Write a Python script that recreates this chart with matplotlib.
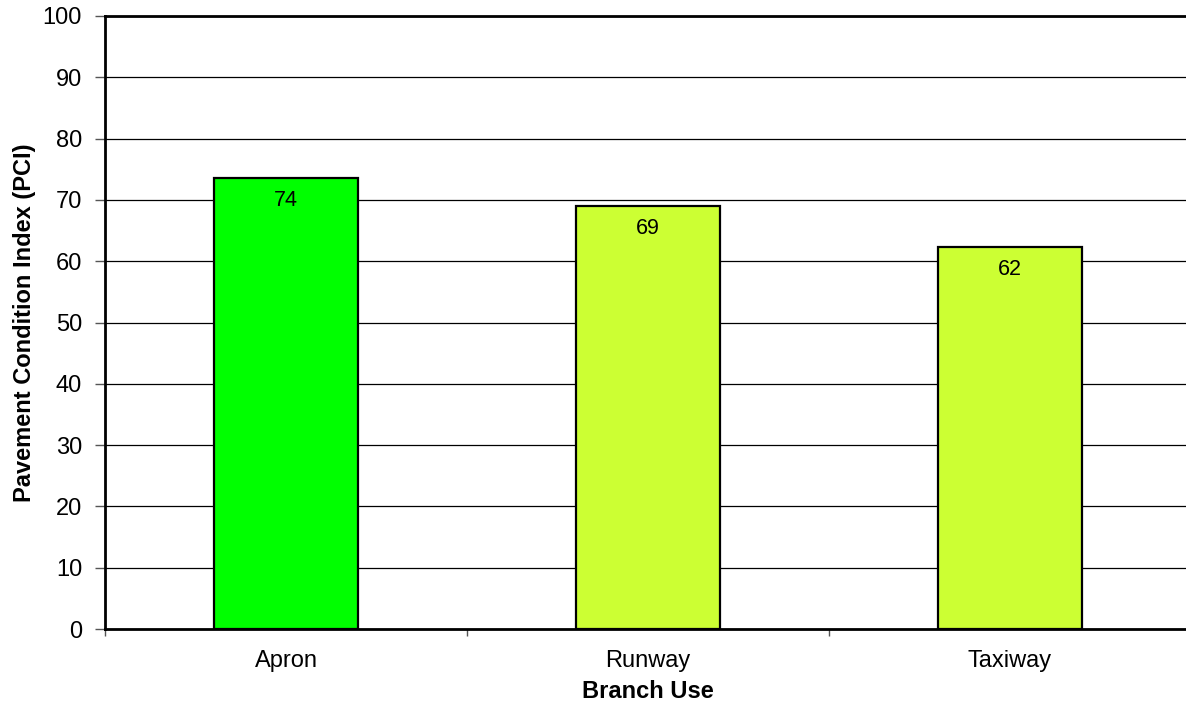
import matplotlib
matplotlib.use("Agg")
import matplotlib.pyplot as plt
import numpy as np

categories = ["Apron", "Runway", "Taxiway"]
pci_values = [73.6, 69.0, 62.3]
bar_colors = ["#00FF00", "#CCFF33", "#CCFF33"]
y_ticks = [0, 10, 20, 30, 40, 50, 60, 70, 80, 90, 100]

plt.rcParams['font.family'] = ['Liberation Sans', 'DejaVu Sans']

W, H = 1186, 707
fig = plt.figure(figsize=(W / 100, H / 100), dpi=100)
ax = fig.add_axes([105 / W, (H - 629) / H, 1086 / W, 613 / H])

x = np.arange(len(categories))
bars = ax.bar(x, pci_values, width=0.4, color=bar_colors, edgecolor="black",
              linewidth=1.6, zorder=3)

for xi, v in zip(x, pci_values):
    ax.annotate(f"{v:.0f}", xy=(xi, v), xytext=(0, -16), textcoords="offset points",
                ha="center", va="center", fontsize=15.5, zorder=4)

ax.set_xlim(-0.5, len(categories) - 0.5)
ax.set_ylim(0, 100)
ax.set_yticks(y_ticks)
ax.set_yticklabels([str(t) for t in y_ticks], fontsize=17)
ax.yaxis.grid(True, color="black", linewidth=0.9, zorder=0)
ax.set_axisbelow(True)

ax.set_xticks(x)
ax.set_xticklabels(categories, fontsize=17)
ax.tick_params(axis="x", which="major", length=0, pad=15)
ax.set_xticks(np.arange(-0.5, len(categories) + 0.5, 1.0), minor=True)
ax.tick_params(axis="x", which="minor", length=5, width=1, color="#555555")
ax.tick_params(axis="y", length=7, width=1, color="#555555", pad=9.5)

for s in ["top", "left", "bottom"]:
    ax.spines[s].set_linewidth(2)
    ax.spines[s].set_color("black")
ax.spines["right"].set_visible(False)

ax.set_ylabel("Pavement Condition Index (PCI)", fontsize=17, fontweight="bold", labelpad=5)
ax.set_xlabel("Branch Use", fontsize=17, fontweight="bold", labelpad=6)

fig.savefig("out.png", dpi=100)
